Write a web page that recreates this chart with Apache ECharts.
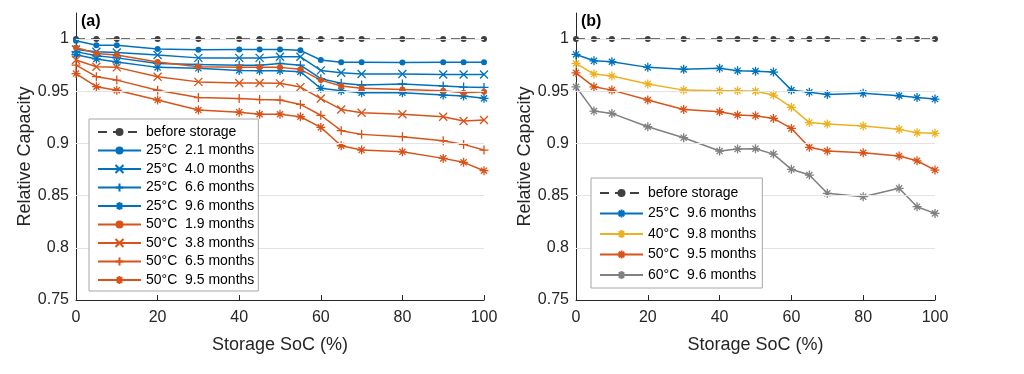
<!DOCTYPE html>
<html>
<head>
<meta charset="utf-8">
<script src="https://cdn.jsdelivr.net/npm/echarts@6/dist/echarts.min.js"></script>
<style>
html,body{margin:0;padding:0;background:#fff;}
#c{width:1024px;height:374px;}
</style>
</head>
<body>
<div id="c"></div>
<script>
// ---- data ----
var soc = [0, 5, 10, 20, 30, 40, 45, 50, 55, 60, 65, 70, 80, 90, 95, 100];
var xTicks = [0, 20, 40, 60, 80, 100];
var yTicks = [0.75, 0.8, 0.85, 0.9, 0.95, 1];
var gridVals = [0.8, 0.85, 0.9, 0.95, 1];

var beforeStorage = [1, 1, 1, 1, 1, 1, 1, 1, 1, 1, 1, 1, 1, 1, 1, 1];

var a25_21 = [0.9984, 0.994, 0.994, 0.9905, 0.9897, 0.990, 0.990, 0.990, 0.9892, 0.980, 0.9777, 0.9777, 0.9776, 0.9777, 0.9777, 0.9777];
var a25_40 = [0.990, 0.9878, 0.9872, 0.9847, 0.982, 0.982, 0.982, 0.983, 0.983, 0.970, 0.9677, 0.9665, 0.9665, 0.966, 0.966, 0.966];
var a25_66 = [0.988, 0.984, 0.982, 0.9767, 0.9757, 0.975, 0.975, 0.9767, 0.975, 0.962, 0.9576, 0.956, 0.957, 0.955, 0.954, 0.9537];
var a25_96 = [0.985, 0.981, 0.978, 0.9729, 0.972, 0.970, 0.9697, 0.9697, 0.9687, 0.9528, 0.9505, 0.9486, 0.9486, 0.9464, 0.9454, 0.9432];
var a50_19 = [0.992, 0.9863, 0.9847, 0.978, 0.9735, 0.9729, 0.9729, 0.9729, 0.971, 0.9607, 0.955, 0.9528, 0.9518, 0.9505, 0.9486, 0.9495];
var a50_38 = [0.980, 0.9735, 0.9729, 0.9639, 0.959, 0.958, 0.958, 0.9576, 0.954, 0.943, 0.9326, 0.9294, 0.928, 0.9256, 0.9215, 0.9224];
var a50_65 = [0.975, 0.964, 0.9607, 0.951, 0.944, 0.943, 0.942, 0.9416, 0.9374, 0.927, 0.9122, 0.9087, 0.9065, 0.9026, 0.8991, 0.8937];
var a50_95 = [0.967, 0.9544, 0.951, 0.9416, 0.932, 0.930, 0.928, 0.928, 0.9256, 0.9154, 0.8978, 0.8937, 0.892, 0.8857, 0.8819, 0.8739];

var b25_96 = [0.9853, 0.9792, 0.9783, 0.9729, 0.971, 0.972, 0.9697, 0.9693, 0.9684, 0.9511, 0.949, 0.947, 0.948, 0.9457, 0.944, 0.9425];
var b40_98 = [0.9767, 0.9665, 0.9646, 0.957, 0.9511, 0.9505, 0.9505, 0.950, 0.9464, 0.9346, 0.920, 0.9186, 0.9167, 0.9135, 0.9103, 0.9097];
var b50_95 = [0.9677, 0.9543, 0.9511, 0.9416, 0.9326, 0.9304, 0.9272, 0.9266, 0.924, 0.9144, 0.8963, 0.8927, 0.8911, 0.8879, 0.8834, 0.8745];
var b60_96 = [0.9543, 0.931, 0.9288, 0.916, 0.9055, 0.8927, 0.8946, 0.895, 0.8898, 0.8752, 0.8697, 0.8522, 0.849, 0.857, 0.8394, 0.833];

var namesA = ['before storage', '25°C  2.1 months', '25°C  4.0 months', '25°C  6.6 months', '25°C  9.6 months',
              '50°C  1.9 months', '50°C  3.8 months', '50°C  6.5 months', '50°C  9.5 months'];
var namesB = ['before storage', '25°C  9.6 months', '40°C  9.8 months', '50°C  9.5 months', '60°C  9.6 months'];

// ---- styles ----
var BLUE = '#0072BD', ORANGE = '#D95319', YELLOW = '#EDB120', GREY = '#808080', DARK = '#404040';
var SYM_X = 'path://M0,0L10,10M10,0L0,10';
var SYM_PLUS = 'path://M5,0L5,10M0,5L10,5';
var SYM_STAR = 'path://M5,0L5,10M0,5L10,5M1.6,1.6L8.4,8.4M8.4,1.6L1.6,8.4';
var FONT = '"Liberation Sans", Arial, Helvetica, sans-serif';
var TXT = '#262626';

function pairs(vals) { return soc.map(function (x, i) { return [x, vals[i]]; }); }

function mk(name, vals, idx, color, sym, size, dashed) {
  var stroke = sym !== 'circle';
  return {
    type: 'line', name: name, xAxisIndex: idx, yAxisIndex: idx,
    data: pairs(vals), symbol: sym, symbolSize: size, showAllSymbol: true,
    z: 3, silent: true, animation: false,
    lineStyle: { color: color, width: 1.5, type: dashed ? [9, 6] : 'solid' },
    itemStyle: stroke ? { color: color, borderColor: color, borderWidth: 1.3 } : { color: color, borderWidth: 0 },
    emphasis: { disabled: true }
  };
}

function gridSeries(idx) {
  return {
    type: 'line', name: 'grid' + idx, xAxisIndex: idx, yAxisIndex: idx, data: [], z: 1, silent: true,
    markLine: {
      silent: true, symbol: 'none', animation: false, label: { show: false },
      lineStyle: { color: '#E3E3E3', width: 1, type: 'solid' },
      data: gridVals.map(function (v) { return { yAxis: v }; })
    }
  };
}

function xAx(idx) {
  return {
    type: 'value', gridIndex: idx, min: 0, max: 100, interval: 20,
    name: 'Storage SoC (%)', nameLocation: 'middle', nameGap: 36,
    nameTextStyle: { fontFamily: FONT, fontSize: 18, color: TXT },
    axisLine: { show: true, onZero: false, lineStyle: { color: TXT, width: 1 } },
    axisTick: { show: true, inside: true, length: 5, lineStyle: { color: TXT } },
    axisLabel: { fontFamily: FONT, fontSize: 16, color: TXT, margin: 10 },
    splitLine: { show: false }
  };
}
function yAx(idx) {
  return {
    type: 'value', gridIndex: idx, min: 0.75, max: 1.025,
    name: 'Relative Capacity', nameLocation: 'middle', nameGap: 42,
    nameTextStyle: { fontFamily: FONT, fontSize: 18, color: TXT },
    axisLine: { show: true, onZero: false, lineStyle: { color: TXT, width: 1 } },
    axisTick: { show: true, inside: true, length: 5, lineStyle: { color: TXT }, customValues: yTicks },
    axisLabel: { fontFamily: FONT, fontSize: 16, color: TXT, margin: 7, customValues: yTicks,
      formatter: function (v) { return String(+v.toFixed(3)); } },
    splitLine: { show: false }
  };
}

var seriesA = [
  mk(namesA[0], beforeStorage, 0, DARK, 'circle', 6, true),
  mk(namesA[1], a25_21, 0, BLUE, 'circle', 6),
  mk(namesA[2], a25_40, 0, BLUE, SYM_X, 8),
  mk(namesA[3], a25_66, 0, BLUE, SYM_PLUS, 9),
  mk(namesA[4], a25_96, 0, BLUE, SYM_STAR, 9),
  mk(namesA[5], a50_19, 0, ORANGE, 'circle', 6),
  mk(namesA[6], a50_38, 0, ORANGE, SYM_X, 8),
  mk(namesA[7], a50_65, 0, ORANGE, SYM_PLUS, 9),
  mk(namesA[8], a50_95, 0, ORANGE, SYM_STAR, 9)
];
var seriesB = [
  mk(namesB[0] + ' ', beforeStorage, 1, DARK, 'circle', 6, true),
  mk(namesB[1] + ' ', b25_96, 1, BLUE, SYM_STAR, 9),
  mk(namesB[2], b40_98, 1, YELLOW, SYM_STAR, 9),
  mk(namesB[3] + ' ', b50_95, 1, ORANGE, SYM_STAR, 9),
  mk(namesB[4], b60_96, 1, GREY, SYM_STAR, 9)
];

var legendCommon = {
  orient: 'vertical', backgroundColor: '#fff', borderColor: '#A6A6A6', borderWidth: 1,
  itemWidth: 43, itemHeight: 10, selectedMode: false, z: 20, zlevel: 0,
  textStyle: { fontFamily: FONT, fontSize: 14, color: '#000' }
};

var chart = echarts.init(document.getElementById('c'), null, { renderer: 'canvas' });
chart.setOption({
  animation: false,
  backgroundColor: '#fff',
  title: [
    { text: '(a)', left: 81, top: 14, padding: 0, textStyle: { fontFamily: FONT, fontSize: 16, fontWeight: 'bold', color: '#000' } },
    { text: '(b)', left: 581, top: 14, padding: 0, textStyle: { fontFamily: FONT, fontSize: 16, fontWeight: 'bold', color: '#000' } }
  ],
  grid: [
    { left: 76, top: 13, width: 408, height: 287 },
    { left: 576, top: 13, width: 359, height: 287 }
  ],
  xAxis: [xAx(0), xAx(1)],
  yAxis: [yAx(0), yAx(1)],
  legend: [
    Object.assign({}, legendCommon, { left: 89, top: 119, itemGap: 4.5, padding: [6, 4, 4, 8],
      data: namesA }),
    Object.assign({}, legendCommon, { left: 591, top: 178, itemGap: 6.5, padding: [8, 6, 6, 8],
      data: seriesB.map(function (s) { return s.name; }),
      formatter: function (n) { return n.trim(); } })
  ],
  series: [gridSeries(0), gridSeries(1)].concat(seriesA, seriesB)
});
</script>
</body>
</html>
